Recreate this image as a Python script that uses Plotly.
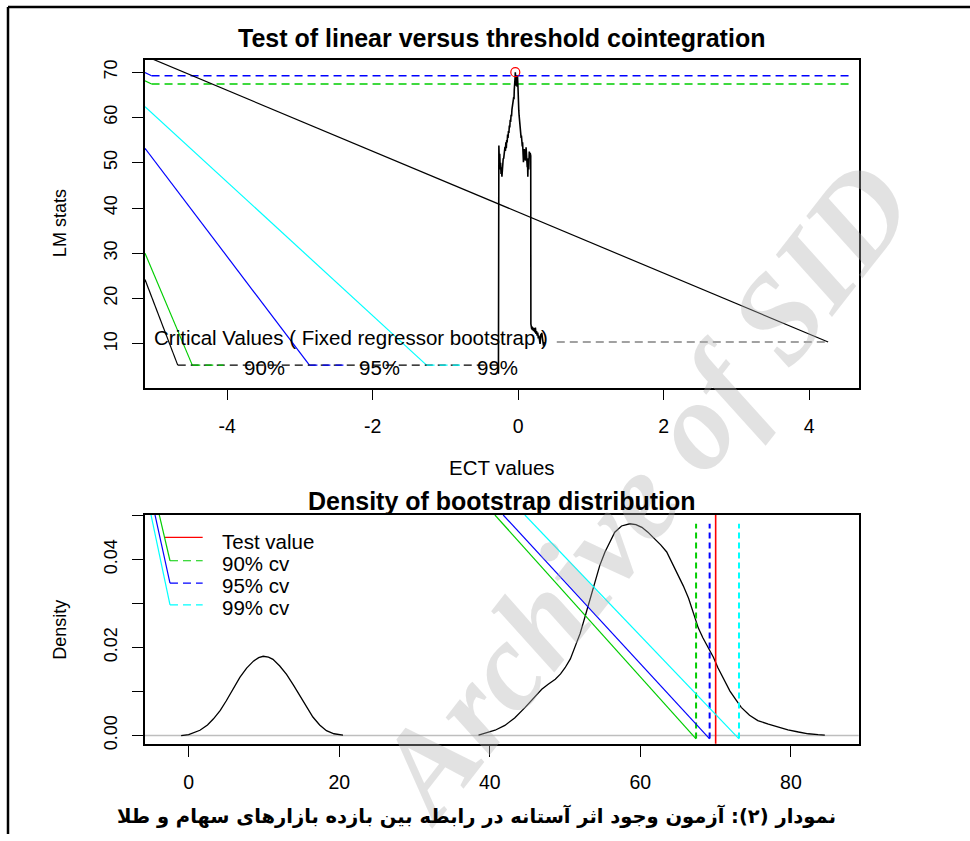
import plotly.graph_objects as go

# ---------------- data : top panel (LM statistics vs ECT threshold) ----------------
lm_ect = [-0.272, -0.272, -0.266, -0.260, -0.254, -0.248, -0.242, -0.236, -0.230, -0.224,
          -0.218, -0.212, -0.206, -0.200, -0.194, -0.188, -0.182, -0.176, -0.170, -0.164,
          -0.158, -0.152, -0.146, -0.140, -0.134, -0.128, -0.122, -0.116, -0.110, -0.104,
          -0.098, -0.092, -0.086, -0.080, -0.074, -0.068, -0.062, -0.058, -0.054, -0.050,
          -0.046, -0.042, -0.040, -0.037, -0.034, -0.031, -0.028, -0.025, -0.022, -0.019,
          -0.016, -0.013, -0.010, -0.007, -0.004, 0.000, 0.004, 0.008, 0.012, 0.016,
          0.020, 0.024, 0.028, 0.032, 0.036, 0.040, 0.044, 0.048, 0.052, 0.056,
          0.060, 0.064, 0.068, 0.072, 0.076, 0.080, 0.084, 0.088, 0.092, 0.096,
          0.100, 0.104, 0.108, 0.112, 0.116, 0.120, 0.124, 0.128, 0.132, 0.136,
          0.140, 0.144, 0.148, 0.152, 0.156, 0.160, 0.166, 0.172, 0.174, 0.180,
          0.186, 0.192, 0.198, 0.204, 0.212, 0.220, 0.228, 0.236, 0.244, 0.252,
          0.260, 0.268, 0.276, 0.284, 0.292, 0.300, 0.306, 0.312, 0.318, 0.324,
          0.330, 0.336, 0.342, 0.348, 0.354, 0.358]
lm_stat = [3.4, 51.6, 53.8, 50.5, 52.0, 48.5, 50.0, 47.5, 49.0, 46.9,
           49.5, 48.8, 51.0, 50.9, 52.5, 51.8, 53.5, 52.6, 54.5, 53.2,
           55.0, 54.5, 56.2, 55.5, 57.0, 56.6, 58.2, 57.8, 59.5, 59.0,
           60.6, 60.2, 61.8, 62.5, 62.0, 63.8, 64.5, 64.0, 66.2, 66.8,
           67.8, 69.0, 70.0, 69.3, 68.2, 69.6, 67.0, 69.0, 67.5, 68.8,
           66.8, 68.5, 69.1, 68.0, 67.0, 61.8, 62.5, 61.5, 60.5, 59.5,
           58.5, 58.0, 57.4, 56.5, 56.8, 55.5, 56.0, 54.8, 55.2, 53.6,
           54.5, 53.4, 52.0, 50.1, 52.5, 50.8, 53.0, 51.5, 52.8, 50.5,
           52.0, 51.0, 53.4, 51.5, 50.0, 52.0, 49.0, 50.5, 46.9, 49.5,
           51.0, 48.5, 50.5, 52.5, 51.0, 52.0, 52.0, 51.5, 14.4, 14.0,
           13.2, 13.8, 13.0, 13.6, 12.8, 13.5, 12.5, 13.6, 12.2, 12.8,
           11.8, 12.5, 11.2, 11.8, 10.5, 10.0, 11.0, 12.2, 11.5, 12.4,
           10.8, 11.6, 10.2, 9.6, 10.4, 10.0]

test_value = 70.0
test_ect = -0.040
cv_labels = ["90%", "95%", "99%"]
cv_values = [67.4, 69.2, 73.1]
cv_colors = ["#00cd00", "#0000ff", "#00ffff"]

# critical-value guide lines drawn in the top panel (as they appear in the figure)
cv_hline_x = [-5.04, 4.55]
cv_lead_x = [-5.13, -5.04]
cv_lead_rise = 0.7
slope_colors = ["#000000", "#00cd00", "#0000ff", "#00ffff"]
slope_x_start = [-5.13, -5.13, -5.13, -5.13]
slope_y_start = [24.2, 30.0, 53.2, 62.4]
slope_x_end = [-4.68, -4.48, -2.87, -1.26]
cv_base = 5.3
base_dash_end = [-4.05, -2.40, -0.80]
base_black_x = [-4.68, -0.29]
cv_label_x = [-3.49, -1.90, -0.28]
cv_label_y = 4.7
diag_x = [-5.13, 4.26]
diag_y = [73.6, 10.4]
side_dash_x = [0.53, 4.26]
side_dash_y = 10.4
note_text = "Critical Values ( Fixed regressor bootstrap )"
note_x = -5.03
note_y = 11.5

# ---------------- data : bottom panel (bootstrap density) ----------------
dens_x = [-1.0, 0.0, 1.5, 2.5, 3.3, 4.2, 5.0, 5.9, 6.8, 7.7, 8.6, 9.3, 9.9, 10.6, 11.2,
          12.1, 13.0, 13.9, 14.8, 15.7, 16.5, 17.4, 18.3, 19.3, 20.5, None,
          38.5, 39.4, 40.7, 42.0, 43.3, 44.7, 45.8, 46.9, 47.8, 48.7, 49.4, 50.0, 50.7,
          51.3, 52.0, 52.6, 53.3, 54.0, 54.6, 55.3, 56.0, 56.6, 57.5, 58.6, 59.4, 60.2,
          61.0, 61.9, 62.7, 63.5, 64.2, 65.0, 65.7, 66.4, 67.0, 67.7, 68.3, 69.0, 69.7,
          70.3, 71.1, 71.9, 72.7, 73.4, 74.5, 75.6, 77.0, 78.3, 79.6, 81.0, 82.3, 83.6, 84.5]
dens_y = [0.0000, 0.0002, 0.0012, 0.0024, 0.0038, 0.0057, 0.0079, 0.0105, 0.0132, 0.0153,
          0.0169, 0.0177, 0.0180, 0.0178, 0.0173, 0.0158, 0.0139, 0.0115, 0.0090, 0.0064,
          0.0042, 0.0024, 0.0011, 0.0004, 0.0001, None,
          0.0001, 0.0005, 0.0012, 0.0023, 0.0040, 0.0064, 0.0085, 0.0105, 0.0117, 0.0128,
          0.0140, 0.0154, 0.0174, 0.0199, 0.0232, 0.0267, 0.0310, 0.0350, 0.0386, 0.0417,
          0.0443, 0.0462, 0.0476, 0.0481, 0.0479, 0.0473, 0.0462, 0.0447, 0.0433, 0.0417,
          0.0393, 0.0365, 0.0340, 0.0312, 0.0280, 0.0244, 0.0222, 0.0199, 0.0178, 0.0154,
          0.0126, 0.0101, 0.0081, 0.0064, 0.0046, 0.0034, 0.0026, 0.0019, 0.0013, 0.0008,
          0.0004, 0.0002, 0.0001]
vdash_y = [-0.0007, 0.0481]
long_diag_x_start = [40.68, 41.78, 44.66]
long_diag_y_start = 0.0501
long_diag_y_end = -0.00075
leg_labels = ["Test value", "90% cv", "95% cv", "99% cv"]
leg_line_y = [0.0450, 0.0397, 0.0346, 0.0297]
leg_text_y = [0.0441, 0.0391, 0.0340, 0.0290]
leg_text_x = 4.16
leg_red_x = [-3.15, 1.86]
leg_dash_x = [-2.48, 1.86]
leg_slope_x_start = [-3.90, -4.47, -5.00]
leg_slope_y_start = 0.0501

title_top = "Test of linear versus threshold cointegration"
title_bot = "Density of bootstrap distribution"
caption = "نمودار (۲): آزمون وجود اثر آستانه در رابطه بین بازده بازارهای سهام و طلا"
watermark = "Archive of SID"

# ---------------- figure ----------------
W, H = 970, 841
FONT = "Liberation Sans, Arial, sans-serif"
DASH = "8px,5px"

fig = go.Figure()

def line(x, y, color, xa="x", ya="y", width=1.2, dash="solid"):
    fig.add_trace(go.Scatter(x=x, y=y, mode="lines", xaxis=xa, yaxis=ya,
                             line=dict(color=color, width=width, dash=dash),
                             hoverinfo="skip", showlegend=False))

# --- top panel ---
for c, v in zip(cv_colors, cv_values):
    line(cv_hline_x, [v, v], c, dash=DASH, width=1.5)
    line(cv_lead_x, [v + cv_lead_rise, v], c)
for c, x0, y0, x1 in zip(slope_colors, slope_x_start, slope_y_start, slope_x_end):
    line([x0, x1], [y0, cv_base], c)
line(base_black_x, [cv_base, cv_base], "#000000", dash=DASH)
for c, x0, x1 in zip(cv_colors, slope_x_end[1:], base_dash_end):
    line([x0, x1], [cv_base, cv_base], c, dash=DASH)
line(diag_x, diag_y, "#000000")
line(side_dash_x, [side_dash_y, side_dash_y], "#444444", dash=DASH)
line(lm_ect, lm_stat, "#000000", width=1.6)
fig.add_trace(go.Scatter(x=[test_ect], y=[test_value], mode="markers",
                         marker=dict(symbol="circle-open", size=9, color="#ff0000",
                                     line=dict(width=1.2, color="#ff0000")),
                         hoverinfo="skip", showlegend=False))

# --- bottom panel ---
line([-10, 100], [0, 0], "#bebebe", "x2", "y2", width=1.5)
line(dens_x, dens_y, "#000000", "x2", "y2", width=1.3)
for c, v in zip(cv_colors, cv_values):
    line([v, v], vdash_y, c, "x2", "y2", width=2, dash="6px,4px")
line([test_value, test_value], [-0.01, 0.06], "#ff0000", "x2", "y2", width=1.6)
for c, x0, v in zip(cv_colors, long_diag_x_start, cv_values):
    line([x0, v], [long_diag_y_start, long_diag_y_end], c, "x2", "y2")
line(leg_red_x, [leg_line_y[0]] * 2, "#ff0000", "x2", "y2")
for c, x0, yy in zip(cv_colors, leg_slope_x_start, leg_line_y[1:]):
    line([x0, leg_dash_x[0]], [leg_slope_y_start, yy], c, "x2", "y2")
    line(leg_dash_x, [yy, yy], c, "x2", "y2", dash=DASH)

# --- axes ---
px = lambda v: v / W
py = lambda v: 1 - v / H
axis_common = dict(showline=True, linecolor="#000000", linewidth=1.5, mirror=True,
                   ticks="outside", ticklen=11, tickwidth=1.3, tickcolor="#000000",
                   showgrid=False, zeroline=False, fixedrange=True)

fig.update_layout(
    width=W, height=H, margin=dict(l=0, r=0, t=0, b=0),
    paper_bgcolor="white", plot_bgcolor="white",
    xaxis=dict(domain=[px(145), px(858.7)], anchor="y", range=[-5.13, 4.68],
               tickvals=[-4, -2, 0, 2, 4], ticktext=["-4", "-2", "0", "2", "4"],
               tickfont=dict(family=FONT, size=19.5, color="#000"), ticklabelstandoff=9,
               **axis_common),
    yaxis=dict(domain=[py(391), py(60)], anchor="x", range=[0.3, 72.8],
               tickvals=[10, 20, 30, 40, 50, 60, 70], tickangle=-90,
               tickfont=dict(family=FONT, size=18, color="#000"), ticklabelstandoff=8,
               **axis_common),
    xaxis2=dict(domain=[px(145), px(858.7)], anchor="y2", range=[-5.8, 89.0],
                tickvals=[0, 20, 40, 60, 80],
                tickfont=dict(family=FONT, size=19.5, color="#000"), ticklabelstandoff=9,
                **axis_common),
    yaxis2=dict(domain=[py(750), py(519.3)], anchor="x2", range=[-0.00187, 0.0501],
                tickvals=[0, 0.01, 0.02, 0.03, 0.04, 0.05],
                ticktext=["0.00", "", "0.02", "", "0.04", ""], tickangle=-90,
                tickfont=dict(family=FONT, size=18, color="#000"), ticklabelstandoff=8,
                **axis_common),
)

ann = []
def text(t, x, y, size, xref="paper", yref="paper", xanchor="center", yanchor="middle",
         bold=False, angle=0, family=FONT, color="#000"):
    ann.append(dict(text=("<b>%s</b>" % t) if bold else t, x=x, y=y, xref=xref, yref=yref,
                    xanchor=xanchor, yanchor=yanchor, showarrow=False, textangle=angle,
                    font=dict(family=family, size=size, color=color)))

# watermark first (behind the other annotations)
ann.append(dict(text="<b><i>%s</i></b>" % watermark, x=px(642), y=py(496), xref="paper",
                yref="paper", showarrow=False, textangle=-52, xanchor="center",
                yanchor="middle",
                font=dict(family="Liberation Serif, Times New Roman, serif", size=126,
                          color="rgba(175,175,175,0.36)")))

text(title_top, px(501), py(38), 25, bold=True)
text("LM stats", px(60), py(225), 18, angle=-90)
text("ECT values", px(502), py(471), 20.5)
text(title_bot, px(501.5), py(505), 25, bold=True)
text("Density", px(60), py(635), 18, angle=-90)
text(note_text, note_x, note_y, 20.5, "x", "y", xanchor="left")
for lab, xx in zip(cv_labels, cv_label_x):
    text(lab, xx, cv_label_y, 20.5, "x", "y")
for lab, yy in zip(leg_labels, leg_text_y):
    text(lab, leg_text_x, yy, 20.5, "x2", "y2", xanchor="left")
text(caption, px(476), py(823), 19.5, bold=True, family="DejaVu Sans")
fig.update_layout(annotations=ann)

# outer frame (page border)
fig.add_shape(type="line", xref="paper", yref="paper", x0=px(8), x1=1, y0=py(7), y1=py(7),
              line=dict(color="#000", width=2.5))
fig.add_shape(type="line", xref="paper", yref="paper", x0=px(8), x1=px(8), y0=py(7), y1=0,
              line=dict(color="#000", width=2.5))

page_css = ("var s=document.createElement('style');"
            "s.innerHTML='html,body{margin:0!important;padding:0!important;overflow:hidden;}';"
            "document.head.appendChild(s);")
fig.write_html("out.html", config={"displayModeBar": False}, post_script=page_css)
